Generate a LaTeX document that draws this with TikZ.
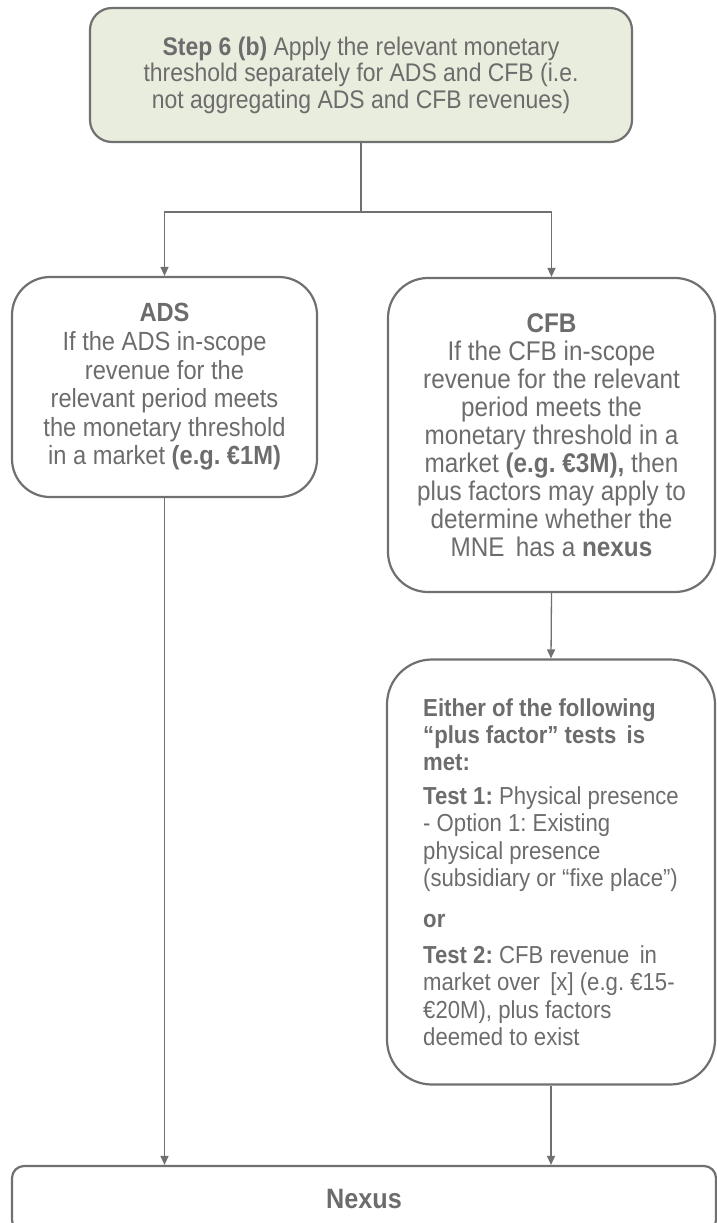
\documentclass[tikz,border=0pt]{standalone}
\usepackage{fontspec}
\setmainfont[FakeStretch=0.9]{Liberation Sans}
\usepackage{tikz}
\usetikzlibrary{arrows.meta,calc}
\usepackage{xcolor}
\definecolor{boxgray}{RGB}{112,112,112}
\definecolor{textgray}{RGB}{108,108,108}
\definecolor{stepgreen}{RGB}{233,237,221}
\frenchspacing

\begin{document}
\begin{tikzpicture}[x=1pt,y=-1pt,>={Triangle[length=9pt,width=8pt]},
    box/.style={draw=boxgray,line width=2.2pt,text=textgray,inner sep=0pt},
    link/.style={draw=boxgray,line width=1.3pt}]
    \useasboundingbox (0,0) rectangle (717,1223);
    \node[box,fill=stepgreen,rounded corners=22pt,minimum width=542pt,minimum height=134pt,
          align=center,font=\fontsize{25.5}{26.5}\selectfont]
          (step) at (361,75)
          {\textbf{Step 6 (b)} Apply the relevant monetary\\
           threshold separately for ADS and CFB (i.e.\\
           not aggregating ADS and CFB revenues)};
    \node[box,rounded corners=38pt,minimum width=305pt,minimum height=220pt,
          align=center,font=\fontsize{26.3}{28.6}\selectfont]
          (ads) at (164.5,387)
          {\textbf{ADS}\\ If the ADS in-scope\\ revenue for the\\ relevant period meets\\
           the monetary threshold\\ in a market \textbf{(e.g. €1M)}};
    \node[box,rounded corners=40pt,minimum width=327pt,minimum height=314pt,
          align=center,font=\fontsize{27}{28}\selectfont]
          (cfb) at (551.5,435)
          {\textbf{CFB}\\ If the CFB in-scope\\ revenue for the relevant\\ period meets the\\
           monetary threshold in a\\ market \textbf{(e.g. €3M),} then\\ plus factors may apply to\\
           determine whether the\\ MNE\, has a \textbf{nexus}};
    \node[box,rounded corners=45pt,minimum width=328pt,minimum height=425pt,
          align=left,font=\fontsize{24.6}{27.4}\selectfont]
          (tests) at (551,872)
          {\textbf{Either of the following}\\ \textbf{“plus factor” tests\, is}\\ \textbf{met:}\\[6pt]
           \textbf{Test 1:} Physical presence\\ - Option 1: Existing\\ physical presence\\
           (subsidiary or “fixe place”)\\[14pt]
           \textbf{or}\\[8pt]
           \textbf{Test 2:} CFB revenue\, in\\ market over\, [x] (e.g. €15-\\
           €20M), plus factors\\ deemed to exist};
    \node[box,rounded corners=12pt,minimum width=704pt,minimum height=66pt,
          font=\fontsize{28}{30}\selectfont\bfseries]
          (nexus) at (364,1199) {Nexus};
    % split below step 6
    \coordinate (split) at ($(step.south)+(0,69)$);
    \draw[link] (step.south) -- (split);
    \draw[link,->] (split) -| (ads.north);
    \draw[link,->] (split) -| (cfb.north);
    \draw[link,->] (cfb.south) -- (tests.north);
    \draw[link,->] (ads.south) -- (ads.south |- nexus.north);
    \draw[link,->] (tests.south) -- (tests.south |- nexus.north);
\end{tikzpicture}
\end{document}
